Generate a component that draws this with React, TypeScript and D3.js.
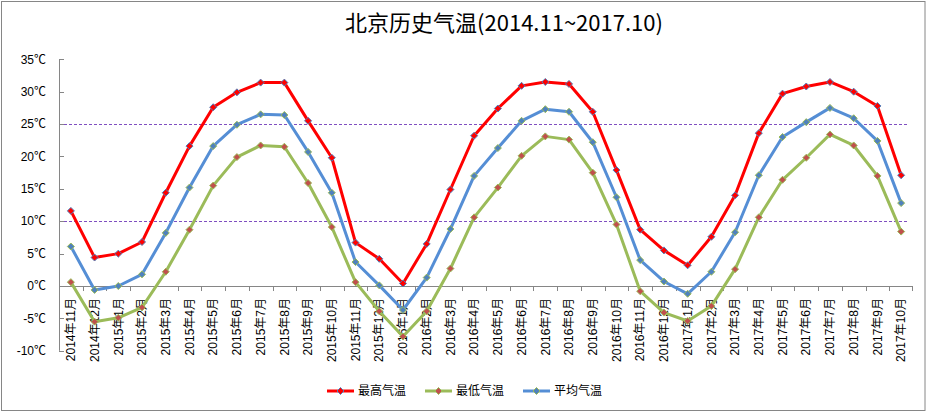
import React from "react";
import * as d3 from "d3";

const months = [
  "2014年11月","2014年12月","2015年1月","2015年2月","2015年3月","2015年4月","2015年5月","2015年6月","2015年7月","2015年8月","2015年9月","2015年10月",
  "2015年11月","2015年12月","2016年1月","2016年2月","2016年3月","2016年4月","2016年5月","2016年6月","2016年7月","2016年8月","2016年9月","2016年10月",
  "2016年11月","2016年12月","2017年1月","2017年2月","2017年3月","2017年4月","2017年5月","2017年6月","2017年7月","2017年8月","2017年9月","2017年10月",
];
const highTemp = [11.6,4.4,5.0,6.8,14.4,21.6,27.6,29.9,31.4,31.4,25.5,19.8,6.7,4.2,0.4,6.5,14.9,23.2,27.4,30.9,31.5,31.2,26.9,17.9,8.7,5.5,3.2,7.6,14.0,23.6,29.7,30.8,31.5,30.0,27.8,17.1];
const lowTemp = [0.6,-5.5,-4.9,-3.3,2.2,8.7,15.5,19.9,21.7,21.5,15.9,9.1,0.6,-3.9,-7.8,-3.9,2.7,10.6,15.2,20.1,23.1,22.6,17.5,9.5,-0.8,-4.1,-5.4,-3.1,2.6,10.6,16.4,19.8,23.4,21.7,17.0,8.4];
const avgTemp = [6.1,-0.6,0.0,1.8,8.2,15.2,21.6,24.9,26.5,26.4,20.7,14.4,3.7,0.1,-3.7,1.3,8.8,17.0,21.3,25.5,27.3,26.9,22.2,13.7,4.0,0.7,-1.2,2.2,8.3,17.1,23.0,25.3,27.5,25.9,22.4,12.8];
const yTicks = [-10,-5,0,5,10,15,20,25,30,35];
const refLines = [25, 10];
const seriesNames = ["最高气温","最低气温","平均气温"];

const FONT = "'Liberation Sans', 'Noto Sans CJK SC', sans-serif";

export default function App() {
  const W = 930, H = 413;
  const x0 = 59, x1 = 913;
  const x = d3.scaleBand<string>().domain(months).range([x0, x1]);
  const y = d3.scaleLinear().domain([-10, 35]).range([350.8, 59.3]);
  const cx = (i: number) => (x(months[i]) as number) + x.bandwidth() / 2;
  const line = d3.line<number>().x((_, i) => cx(i)).y((d) => y(d));

  const series = [
    { name: seriesNames[0], data: highTemp, color: "#FF0000", mFill: "#FF0000", mStroke: "#4F81BD" },
    { name: seriesNames[1], data: lowTemp, color: "#9BBB59", mFill: "#C0504D", mStroke: "#9BBB59" },
    { name: seriesNames[2], data: avgTemp, color: "#558ED5", mFill: "#4F81BD", mStroke: "#9BBB59" },
  ];
  const diamond = (px: number, py: number, r: number) =>
    `M${px},${py - r}L${px + r},${py}L${px},${py + r}L${px - r},${py}Z`;

  const legendX = [327, 425, 523];

  return (
    <svg width={W} height={H} style={{ position: "absolute", left: 0, top: 0 }}>
      <rect x={0} y={0} width={W} height={H} fill="#fff" />
      <rect x={1.5} y={1.5} width={923.5} height={409} fill="none" stroke="#868686" strokeWidth={1} />
      <text x={504} y={31} textAnchor="middle" fontSize={22} fontFamily="'Noto Sans CJK SC', sans-serif" fill="#000">
        北京历史气温(2014.11~2017.10)
      </text>
      {/* reference lines */}
      {refLines.map((v) => (
        <line key={v} x1={x0} x2={x1 - 6} y1={Math.round(y(v)) + 0.5} y2={Math.round(y(v)) + 0.5}
          stroke="#7F4FC0" strokeWidth={1} strokeDasharray="3,2" />
      ))}
      {/* y axis */}
      <line x1={x0 + 0.5} x2={x0 + 0.5} y1={y(35)} y2={y(-10)} stroke="#868686" />
      {yTicks.map((t) => (
        <g key={t}>
          <line x1={x0} x2={x0 + 5} y1={Math.round(y(t)) + 0.5} y2={Math.round(y(t)) + 0.5} stroke="#868686" />
          <text x={46} y={y(t)} dy="0.35em" textAnchor="end" fontSize={12} fontFamily={FONT} fill="#000">
            {t}℃
          </text>
        </g>
      ))}
      {/* x axis */}
      <line x1={x0} x2={x1} y1={Math.round(y(0)) + 0.5} y2={Math.round(y(0)) + 0.5} stroke="#868686" />
      {months.map((m, i) => (
        <line key={"t" + i} x1={Math.round((x(m) as number)) + 0.5 + x.bandwidth() * (i === 0 ? 0 : 0)} x2={Math.round((x(m) as number)) + 0.5}
          y1={y(0)} y2={y(0) + 5} stroke="#868686" />
      ))}
      <line x1={x1 - 0.5} x2={x1 - 0.5} y1={y(0)} y2={y(0) + 5} stroke="#868686" />
      {months.map((m, i) => (
        <text key={"l" + i} transform={`translate(${cx(i)},${298}) rotate(-90)`} dy="0.35em" textAnchor="end"
          fontSize={12} fontFamily={FONT} fill="#000">
          {m}
        </text>
      ))}
      {/* series */}
      {series.map((s) => (
        <g key={s.name}>
          <path d={line(s.data) as string} fill="none" stroke={s.color} strokeWidth={3} strokeLinejoin="round" />
          {s.data.map((v, i) => (
            <path key={i} d={diamond(cx(i), y(v), 3.5)} fill={s.mFill} stroke={s.mStroke} strokeWidth={1} />
          ))}
        </g>
      ))}
      {/* legend */}
      {series.map((s, k) => (
        <g key={"lg" + k}>
          <line x1={legendX[k]} x2={legendX[k] + 27} y1={391} y2={391} stroke={s.color} strokeWidth={3} />
          <path d={diamond(legendX[k] + 13.5, 391, 3.5)} fill={s.mFill} stroke={s.mStroke} />
          <text x={legendX[k] + 31} y={391} dy="0.35em" fontSize={12} fontFamily="'Noto Sans CJK SC', sans-serif" fill="#000">
            {s.name}
          </text>
        </g>
      ))}
    </svg>
  );
}
